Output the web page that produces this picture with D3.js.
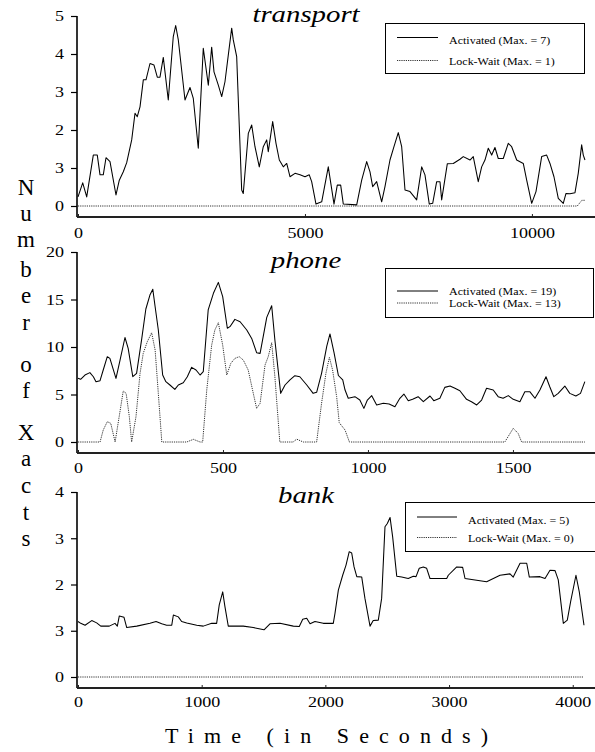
<!DOCTYPE html>
<html><head><meta charset="utf-8">
<script src="https://cdn.jsdelivr.net/npm/d3@7"></script>
<style>body{margin:0;background:#fff} svg{display:block}</style>
</head><body><svg id="c" width="595" height="752"></svg>
<script>
// ---------- DATA ----------
// [time in seconds, number of xacts]
const transportActivated = [[0,0.24],[104,0.61],[192,0.24],[337,1.34],[425,1.34],[485,0.82],[557,0.82],[617,1.27],[705,1.17],[837,0.29],[910,0.68],[998,0.9],[1073,1.14],[1183,1.74],[1256,2.44],[1306,2.35],[1366,2.61],[1439,3.32],[1498,3.32],[1586,3.75],[1674,3.71],[1747,3.39],[1806,3.39],[1879,3.91],[1989,2.79],[2099,4.46],[2152,4.75],[2210,4.37],[2357,2.79],[2467,3.12],[2540,2.83],[2650,1.52],[2760,4.15],[2871,3.18],[2945,4.18],[2996,3.53],[3091,3.18],[3166,2.88],[3238,3.27],[3311,3.97],[3386,4.68],[3421,4.37],[3496,3.93],[3606,0.42],[3641,0.33],[3752,1.91],[3827,2.13],[3899,1.56],[3994,1.03],[4082,1.56],[4157,1.74],[4192,1.43],[4289,2.22],[4362,1.65],[4435,1.21],[4523,1.03],[4598,1.12],[4670,0.77],[4781,0.86],[4891,0.82],[5001,0.77],[5095,0.82],[5148,0.64],[5243,0.05],[5369,0.11],[5514,1.03],[5640,0.05],[5712,0.55],[5787,0.55],[5845,0.05],[6140,0.03],[6250,0.68],[6360,1.17],[6433,0.9],[6492,0.51],[6580,0.64],[6690,0.11],[6763,0.51],[6873,1.21],[6961,1.56],[7056,1.93],[7131,1.56],[7204,0.42],[7314,0.38],[7461,0.16],[7572,1.03],[7644,0.82],[7739,0.05],[7814,0.07],[7902,0.64],[7975,0.64],[8012,0.16],[8136,1.11],[8268,1.12],[8415,1.23],[8488,1.3],[8636,1.21],[8708,1.3],[8818,0.64],[8893,1.03],[8966,1.21],[9039,1.52],[9114,1.34],[9186,1.54],[9259,1.25],[9369,1.25],[9479,1.65],[9554,1.56],[9665,1.21],[9810,1.12],[9885,0.68],[9995,0.07],[10090,0.38],[10215,1.3],[10325,1.34],[10398,1.12],[10486,0.77],[10581,0.2],[10691,0.07],[10751,0.33],[10839,0.32],[10949,0.35],[11021,0.86],[11096,1.61],[11132,1.34],[11169,1.21]];
const transportLockWait = [[0,0],[11000,0],[11100,0.15],[11169,0.15]];

const phoneActivated = [[0,6.7],[9,6.6],[24,7.05],[41,7.3],[53,6.87],[62,6.35],[76,6.45],[87,7.58],[101,8.98],[110,8.8],[131,6.7],[145,8.63],[162,11.0],[173,9.86],[189,6.87],[202,7.23],[220,10.9],[234,14.0],[248,15.47],[258,16.07],[266,14.24],[277,11.79],[292,7.05],[303,6.35],[317,6.0],[334,5.54],[346,6.0],[363,6.24],[377,6.87],[392,7.86],[407,7.58],[421,7.05],[432,7.4],[449,13.9],[467,15.65],[484,16.8],[499,15.3],[515,11.97],[524,12.14],[541,12.91],[559,12.66],[582,11.79],[599,10.9],[616,9.4],[628,9.33],[651,13.12],[668,14.35],[679,10.74],[699,5.12],[714,6.0],[731,6.53],[748,6.98],[765,6.87],[789,6.0],[811,5.12],[823,5.23],[840,7.23],[858,10.1],[869,11.37],[883,9.4],[898,7.0],[913,6.53],[921,5.47],[932,4.6],[955,4.77],[972,4.42],[986,3.54],[998,4.42],[1013,4.88],[1030,3.9],[1053,4.07],[1073,4.0],[1093,3.72],[1110,4.6],[1124,5.05],[1139,4.35],[1154,4.49],[1173,4.77],[1191,4.24],[1214,4.84],[1227,4.35],[1248,4.6],[1265,5.75],[1283,5.89],[1300,5.65],[1317,5.4],[1340,4.49],[1357,4.24],[1375,3.9],[1392,4.42],[1409,5.65],[1432,5.47],[1449,4.77],[1466,4.6],[1484,4.88],[1501,4.49],[1524,4.24],[1541,5.3],[1558,5.3],[1576,4.6],[1593,5.47],[1614,6.87],[1627,5.82],[1641,4.77],[1656,5.12],[1679,5.89],[1696,5.12],[1717,4.84],[1733,5.12],[1748,6.35]];
const phoneLockWait = [[0,0],[76,0],[87,1.26],[101,2.14],[113,1.96],[128,0],[142,2.67],[156,5.37],[166,5.12],[177,2.67],[185,0],[200,2.67],[214,7.23],[225,9.33],[239,10.56],[254,11.5],[266,9.68],[277,5.12],[289,0],[375,0],[398,0.28],[421,0],[430,0],[444,5.47],[461,10.2],[472,11.79],[484,12.56],[499,10.2],[513,7.05],[527,8.28],[541,8.8],[556,8.98],[570,8.63],[587,7.58],[602,5.47],[616,3.54],[628,4.07],[645,8.1],[656,8.98],[668,10.45],[679,6.87],[696,0],[742,0],[754,0.3],[777,0],[823,0],[840,4.07],[855,7.23],[867,8.91],[878,7.58],[892,4.77],[901,2.03],[921,1.26],[936,0],[1472,0],[1501,1.44],[1518,0.9],[1530,0],[1748,0]];

const bankActivated = [[0,1.2],[22,1.16],[57,1.12],[111,1.22],[151,1.17],[184,1.1],[253,1.1],[299,1.16],[318,1.1],[334,1.32],[372,1.29],[394,1.07],[475,1.1],[582,1.16],[631,1.2],[677,1.15],[717,1.12],[758,1.12],[771,1.34],[811,1.3],[838,1.2],[879,1.17],[960,1.12],[1013,1.1],[1081,1.16],[1121,1.16],[1142,1.56],[1170,1.84],[1188,1.52],[1215,1.1],[1336,1.1],[1417,1.07],[1504,1.02],[1552,1.15],[1633,1.16],[1741,1.1],[1789,1.09],[1817,1.25],[1849,1.27],[1876,1.15],[1916,1.2],[1983,1.16],[2032,1.16],[2064,1.16],[2078,1.38],[2105,1.88],[2140,2.2],[2167,2.42],[2193,2.71],[2213,2.68],[2232,2.38],[2254,2.17],[2294,2.16],[2320,1.7],[2361,1.1],[2387,1.22],[2428,1.23],[2455,1.7],[2482,3.25],[2501,3.32],[2523,3.45],[2544,3.03],[2577,2.18],[2617,2.16],[2670,2.13],[2711,2.18],[2733,2.17],[2759,2.35],[2792,2.38],[2819,2.35],[2846,2.13],[2981,2.13],[2994,2.2],[3062,2.38],[3110,2.37],[3129,2.13],[3304,2.06],[3412,2.2],[3493,2.23],[3519,2.16],[3574,2.46],[3628,2.46],[3649,2.16],[3735,2.17],[3776,2.13],[3816,2.31],[3857,2.3],[3883,2.1],[3924,1.16],[3956,1.23],[3983,1.63],[4026,2.2],[4053,1.84],[4091,1.12]];
const bankLockWait = [[0,0],[4091,0]];

const transportXTicks = [0, 5000, 10000];
const transportYTicks = [0, 1, 2, 3, 4, 5];
const transportYTickLabels = ["0", "3", "2", "3", "4", "5"];
const phoneXTicks = [0, 500, 1000, 1500];
const phoneYTicks = [0, 5, 10, 15, 20];
const phoneYTickLabels = ["0", "5", "10", "15", "20"];
const bankXTicks = [0, 1000, 2000, 3000, 4000];
const bankYTicks = [0, 1, 2, 3, 4];
const bankYTickLabels = ["0", "3", "2", "3", "4"];

const transportLegend = ["Activated (Max. = 7)", "Lock-Wait (Max. = 1)"];
const phoneLegend = ["Activated (Max. = 19)", "Lock-Wait (Max. = 13)"];
const bankLegend = ["Activated (Max. = 5)", "Lock-Wait (Max. = 0)"];

const yAxisTitle = "Number of Xacts";
const xAxisTitle = "Time (in Seconds)";

// ---------- DRAW ----------
const svg = d3.select("#c");
const FONT = '"Liberation Serif","Times New Roman",Times,serif';
const SX = 1.2;

const panels = [
  {name:"transport", act:transportActivated, lw:transportLockWait, xMax:11390, yMax:5,
   xTicks:transportXTicks, yTicks:transportYTicks, yLabels:transportYTickLabels, legend:transportLegend,
   L:{top:16, zero:206, axis:217, labelOff:21, titleY:22, box:[385,23,199,50], lineY:[37.5,60.5], textY:[44,64.5], lineX:[397,438], textX:449}},
  {name:"phone", act:phoneActivated, lw:phoneLockWait, xMax:1783, yMax:20,
   xTicks:phoneXTicks, yTicks:phoneYTicks, yLabels:phoneYTickLabels, legend:phoneLegend,
   L:{top:252, zero:442, axis:453, labelOff:20, titleY:268, box:[385,268,208,49], lineY:[291,303], textY:[294.5,306.5], lineX:[397,438], textX:449}},
  {name:"bank", act:bankActivated, lw:bankLockWait, xMax:4180, yMax:4,
   xTicks:bankXTicks, yTicks:bankYTicks, yLabels:bankYTickLabels, legend:bankLegend,
   L:{top:492, zero:677, axis:688, labelOff:19, titleY:503, box:[405,502,200,49], lineY:[517,537.5], textY:[523.5,541.5], lineX:[417,457], textX:468}}
];

panels.forEach(p => {
  const L = p.L;
  const x = d3.scaleLinear().domain([0, p.xMax]).range([78, 595]);
  const y = d3.scaleLinear().domain([0, p.yMax]).range([L.zero, L.top]);

  // y axis
  const ya = svg.append("g").attr("transform", "translate(77,0)")
    .call(d3.axisLeft(y).tickValues(p.yTicks)
      .tickFormat(d => p.yLabels[p.yTicks.indexOf(d)])
      .tickSize(6).tickPadding(7).tickSizeOuter(0));
  ya.select(".domain").attr("d", `M0,${L.top}V${L.axis}`).attr("stroke", "#000").attr("stroke-width", 1.6);
  ya.selectAll(".tick line").attr("stroke", "#000").attr("stroke-width", 1.2);
  ya.selectAll("text").attr("x", -13 / SX).attr("transform", `scale(${SX},1)`)
    .style("font-family", FONT).style("font-size", "15px").attr("fill", "#000");

  // x axis
  const xa = svg.append("g").attr("transform", `translate(0,${L.axis})`)
    .call(d3.axisBottom(x).tickValues(p.xTicks).tickFormat(d3.format("d"))
      .tickSizeInner(-3).tickSizeOuter(0).tickPadding(0));
  xa.select(".domain").attr("d", "M77,0H595").attr("stroke", "#222").attr("stroke-width", 2.2);
  xa.selectAll(".tick line").attr("stroke", "#222");
  xa.selectAll("text").attr("y", L.labelOff).attr("dy", 0).attr("transform", `scale(${SX},1)`)
    .style("font-family", FONT).style("font-size", "15px").attr("fill", "#000");

  const line = d3.line().x(d => x(d[0])).y(d => y(d[1]));
  svg.append("path").datum(p.lw).attr("d", line).attr("fill", "none")
    .attr("stroke", "#333").attr("stroke-width", 1).attr("stroke-dasharray", "1.2,1");
  svg.append("path").datum(p.act).attr("d", line).attr("fill", "none")
    .attr("stroke", "#000").attr("stroke-width", 1.05).attr("stroke-linejoin", "round");

  // title
  svg.append("text").attr("transform", `translate(306,${L.titleY}) scale(${SX},1)`)
    .attr("text-anchor", "middle").style("font-family", FONT).style("font-style", "italic")
    .style("font-size", "24px").text(p.name);

  // legend
  const g = svg.append("g");
  g.append("rect").attr("x", L.box[0] + 0.5).attr("y", L.box[1] + 0.5).attr("width", L.box[2]).attr("height", L.box[3])
    .attr("fill", "#fff").attr("stroke", "#000").attr("stroke-width", 1);
  p.legend.forEach((lab, i) => {
    g.append("line").attr("x1", L.lineX[0]).attr("x2", L.lineX[1]).attr("y1", L.lineY[i]).attr("y2", L.lineY[i])
      .attr("stroke", i === 0 ? "#000" : "#333").attr("stroke-width", 1)
      .attr("stroke-dasharray", i === 0 ? null : "1.2,1");
    g.append("text").attr("transform", `translate(${L.textX},${L.textY[i]}) scale(${SX},1)`)
      .style("font-family", FONT).style("font-size", "10px").text(lab);
  });
});

// y axis title: one text element with stacked letters
const letterBaselines = [195, 221, 247, 277, 303, 330, null, 372, 398, null, 440, 466, 493, 520, 546];
const yt = svg.append("text").attr("text-anchor", "middle")
  .style("font-family", FONT).style("font-size", "23px");
yAxisTitle.split("").forEach((ch, i) => {
  if (ch === " ") return;
  yt.append("tspan").attr("x", 26).attr("y", letterBaselines[i]).text(ch);
});

// x axis title
svg.append("text").attr("x", 165).attr("y", 743).attr("textLength", 323).attr("lengthAdjust", "spacing")
  .style("font-family", FONT).style("font-size", "22px").text(xAxisTitle);
</script>
</body></html>
